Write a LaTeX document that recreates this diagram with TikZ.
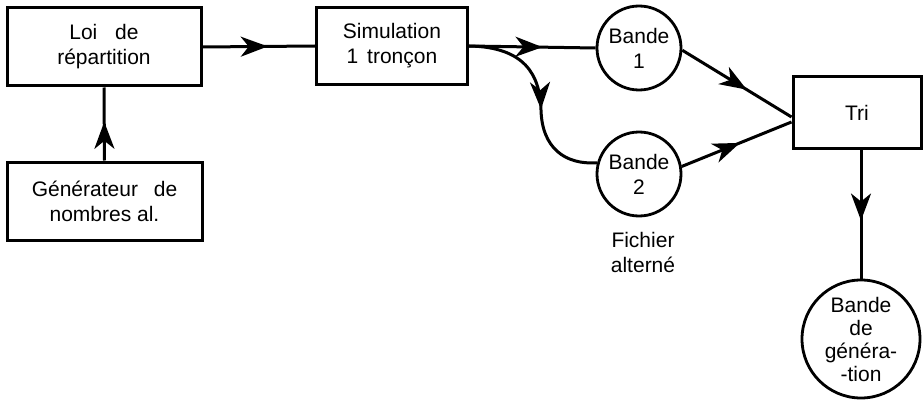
\documentclass[tikz,border=0pt]{standalone}
\usepackage{fontspec}
\setmainfont{Liberation Sans}
\usetikzlibrary{arrows.meta,decorations.markings,calc}
\tikzset{
  box/.style={draw, line width=3pt, rectangle, inner sep=0pt, align=center,
    font=\fontsize{21}{25}\selectfont},
  tape/.style={draw, line width=2.8pt, circle, inner sep=0pt, align=center,
    font=\fontsize{21}{25}\selectfont},
  lbl/.style={inner sep=0pt, align=center, font=\fontsize{21}{25}\selectfont},
  flow/.style={line width=3pt, postaction={decorate},
    decoration={markings, mark=at position #1 with {\arrow{Stealth[length=27pt,width=20pt,inset=8pt]}}}},
  flow/.default=0.55
}
\begin{document}
\begin{tikzpicture}[x=1pt,y=-1pt]
\useasboundingbox (0,0) rectangle (923,401);
\node[box, minimum width=194pt, minimum height=78pt] (loi) at (104,47) {Loi\hspace{12pt} de\\répartition};
\node[box, minimum width=195pt, minimum height=78pt] (gen) at (104.5,201) {Générateur\hspace{10pt} de\\nombres al.};
\node[box, minimum width=151pt, minimum height=77pt] (sim) at (392,46) {Simulation\\1\hspace{3pt} tronçon};
\node[tape, minimum size=84pt] (b1) at (639,48) {Bande\\1};
\node[tape, minimum size=84pt] (b2) at (639,174) {Bande\\2};
\node[box, minimum width=128pt, minimum height=71pt] (tri) at (857,112.5) {Tri};
\node[tape, minimum size=118pt, font=\fontsize{21}{23}\selectfont] (bg) at (861,339) {Bande\\de\\généra-\\-tion};
\node[lbl] (fich) at (643,252) {Fichier\\alterné};

\coordinate (t1) at ($(tri.west)+(0,4.5)$);
\coordinate (t2) at ($(tri.west)+(0,9.5)$);

\draw[flow=0.53] (gen.north) -- (loi.south);
\draw[flow=0.58] (loi.east) -- (sim.west);
\draw[flow=0.58] (sim.east) -- (b1.west);
\draw[flow=0.55] (sim.east) .. controls (525,47) and (540,75) .. (541,110)
   .. controls (542,148) and (565,165) .. (b2.165);
\draw[flow=0.59] (b1.-3) -- (t1);
\draw[flow=0.53] (b2.10) -- (t2);
\draw[flow=0.55] (tri.south -| bg.north) -- (bg.north);
\end{tikzpicture}
\end{document}
